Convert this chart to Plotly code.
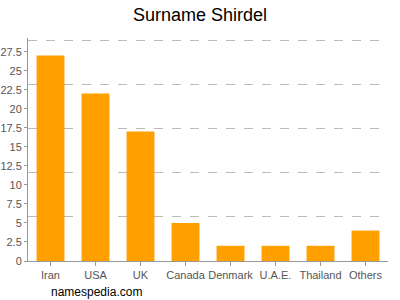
import plotly.graph_objects as go

categories = ["Iran", "USA", "UK", "Canada", "Denmark", "U.A.E.", "Thailand", "Others"]
values = [27, 22, 17, 5, 2, 2, 2, 4]
tick_vals = [0, 2.5, 5, 7.5, 10, 12.5, 15, 17.5, 20, 22.5, 25, 27.5]
tick_text = ["0", "2.5", "5", "7.5", "10", "12.5", "15", "17.5", "20", "22.5", "25", "27.5"]
grid_vals = [5.8, 11.6, 17.4, 23.2, 29]
y_max = 29.3

fig = go.Figure()
fig.add_trace(go.Bar(x=categories, y=values, marker=dict(color="#FFA000", line=dict(width=0)),
                     hoverinfo="x+y"))
# invisible trace for grid axis
fig.add_trace(go.Scatter(x=categories, y=values, yaxis="y2", mode="markers",
                         marker=dict(opacity=0), hoverinfo="skip", showlegend=False))

fig.update_layout(
    width=400, height=300,
    margin=dict(l=28, r=12, t=38, b=39),
    paper_bgcolor="white", plot_bgcolor="white",
    showlegend=False,
    bargap=0.38,
    font=dict(family="Liberation Sans, Arial, sans-serif", size=11, color="#555"),
    title=dict(text="Surname Shirdel", x=0.5, xanchor="center", y=0.95, yanchor="middle",
               font=dict(size=18, color="#000")),
    xaxis=dict(showline=True, linecolor="#999", linewidth=1, ticks="outside", ticklen=4,
               tickcolor="#999", showgrid=False, tickangle=0, automargin=False,
               tickfont=dict(size=11, color="#555")),
    yaxis=dict(range=[0, y_max], tickvals=tick_vals, ticktext=tick_text, showgrid=False,
               showline=True, linecolor="#999", linewidth=1, ticks="outside", ticklen=3,
               tickcolor="#999", zeroline=False, automargin=False,
               tickfont=dict(size=11, color="#555")),
    yaxis2=dict(range=[0, y_max], overlaying="y", tickvals=grid_vals, showgrid=True,
                gridcolor="#bbb", griddash="dash", gridwidth=1, showticklabels=False,
                zeroline=False, showline=False, automargin=False),
    annotations=[dict(text="namespedia.com", xref="paper", yref="paper", x=0.058, y=-0.14,
                      xanchor="left", yanchor="middle", showarrow=False,
                      font=dict(size=12, color="#000"))],
)
fig.write_html("out.html")
